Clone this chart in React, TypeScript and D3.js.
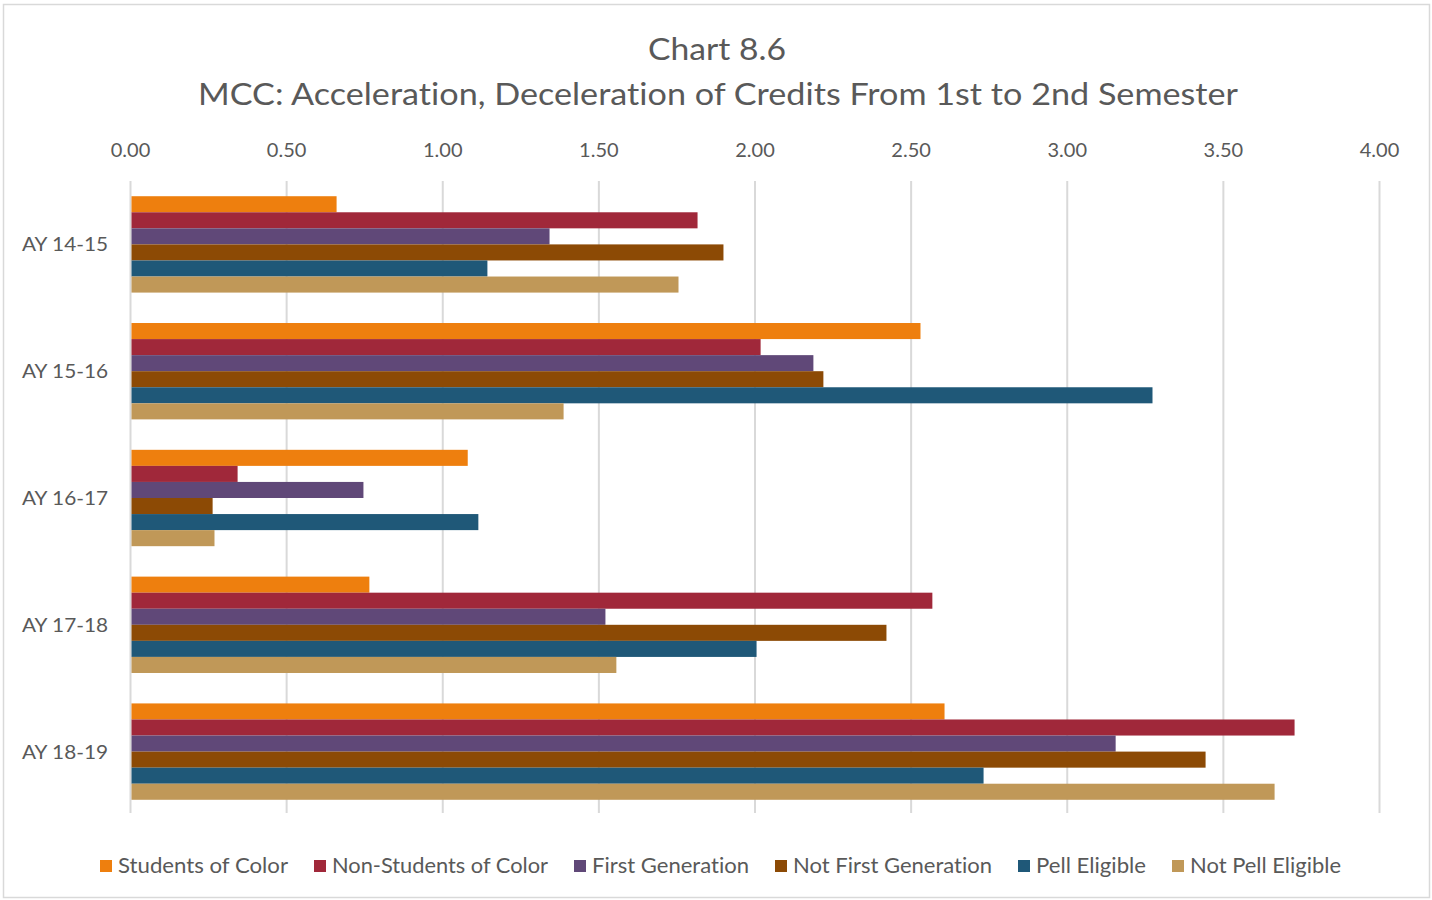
import React from "react";
import * as d3 from "d3";

const categories = ["AY 14-15", "AY 15-16", "AY 16-17", "AY 17-18", "AY 18-19"];
const seriesNames = [
  "Students of Color",
  "Non-Students of Color",
  "First Generation",
  "Not First Generation",
  "Pell Eligible",
  "Not Pell Eligible",
];
const studentsOfColor = [0.66, 2.53, 1.08, 0.765, 2.607];
const nonStudentsOfColor = [1.816, 2.018, 0.343, 2.568, 3.728];
const firstGeneration = [1.342, 2.187, 0.746, 1.521, 3.155];
const notFirstGeneration = [1.899, 2.219, 0.263, 2.421, 3.443];
const pellEligible = [1.143, 3.273, 1.114, 2.005, 2.732];
const notPellEligible = [1.755, 1.387, 0.269, 1.556, 3.664];
const tickValues = [0, 0.5, 1, 1.5, 2, 2.5, 3, 3.5, 4];
const colors = ["#EE7F0E", "#A0283A", "#604878", "#8C4A05", "#1F5878", "#C09858"];

const seriesValues = [
  studentsOfColor,
  nonStudentsOfColor,
  firstGeneration,
  notFirstGeneration,
  pellEligible,
  notPellEligible,
];

const legendX = [100, 314, 574, 775, 1018, 1172];
const legendW = [170, 216, 157, 199, 110, 151];

export default function App() {
  const W = 1432;
  const H = 900;
  const x = d3.scaleLinear().domain([0, 4]).range([130.5, 1379.5]);
  const y = d3.scaleBand<string>().domain(categories).range([181, 815]).paddingInner(0.24).paddingOuter(0.12);
  const inner = d3.scaleBand<number>().domain(d3.range(6)).range([0, y.bandwidth()]);
  const font = "Lato, 'Open Sans', sans-serif";
  const grey = "#595959";
  return (
    <svg width={W} height={H} style={{ position: "absolute", left: 0, top: 0, fontVariantLigatures: "none" }} fontFamily={font}>
      <rect x={0} y={0} width={W} height={H} fill="#fff" />
      <rect x={3.5} y={4.5} width={1426} height={893} fill="#fff" stroke="#d9d9d9" strokeWidth={1.5} />
      <text x={717} y={60} textAnchor="middle" fontSize={30} fill={grey} textLength={138} lengthAdjust="spacingAndGlyphs">Chart 8.6</text>
      <text x={718} y={105} textAnchor="middle" fontSize={30} fill={grey} textLength={1040} lengthAdjust="spacingAndGlyphs">
        MCC: Acceleration, Deceleration of Credits From 1st to 2nd Semester
      </text>
      {tickValues.map((t) => (
        <g key={t}>
          <line x1={x(t)} x2={x(t)} y1={181} y2={813} stroke="#d9d9d9" strokeWidth={2} />
          <text x={x(t)} y={157} textAnchor="middle" fontSize={20} fill={grey}>{d3.format(".2f")(t)}</text>
        </g>
      ))}
      {categories.map((c, i) => (
        <g key={c}>
          <text x={108} y={(y(c) as number) + y.bandwidth() / 2 + 7} textAnchor="end" fontSize={20} fill={grey} textLength={86} lengthAdjust="spacingAndGlyphs">{c}</text>
          {seriesValues.map((vals, s) => (
            <rect
              key={s}
              x={x(0) + 1}
              y={(y(c) as number) + (inner(s) as number)}
              width={x(vals[i]) - x(0) - 1}
              height={inner.bandwidth()}
              fill={colors[s]}
            />
          ))}
        </g>
      ))}
      {seriesNames.map((n, s) => (
        <g key={n}>
          <rect x={legendX[s]} y={860} width={12} height={12} fill={colors[s]} />
          <text x={legendX[s] + 18} y={873} fontSize={21} fill={grey} textLength={legendW[s]} lengthAdjust="spacingAndGlyphs">{n}</text>
        </g>
      ))}
    </svg>
  );
}
